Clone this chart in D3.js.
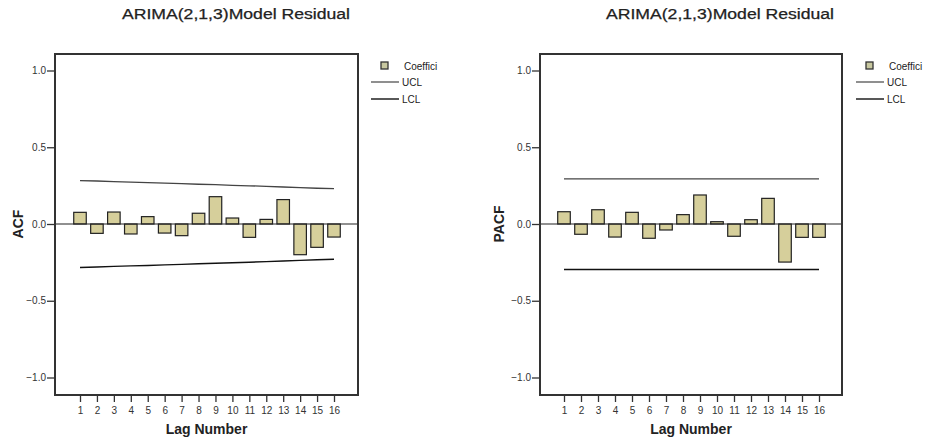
<!DOCTYPE html>
<html>
<head>
<meta charset="utf-8">
<script src="https://cdn.jsdelivr.net/npm/d3@7"></script>
<style>
  html, body { margin: 0; padding: 0; background: #fff; }
  svg { display: block; }
  text { font-family: "Liberation Sans", Arial, sans-serif; }
</style>
</head>
<body>
<svg id="chart" width="928" height="440"></svg>
<script>
// ---- data ----
const lags = [1, 2, 3, 4, 5, 6, 7, 8, 9, 10, 11, 12, 13, 14, 15, 16];
const acfValues = [0.076, -0.061, 0.078, -0.065, 0.048, -0.059, -0.076, 0.070, 0.178, 0.039, -0.087, 0.030, 0.159, -0.200, -0.152, -0.085];
const acfUCL = [0.283, 0.280, 0.276, 0.273, 0.270, 0.266, 0.263, 0.259, 0.256, 0.252, 0.249, 0.245, 0.241, 0.237, 0.233, 0.230];
const acfLCL = [-0.283, -0.280, -0.276, -0.273, -0.270, -0.266, -0.263, -0.259, -0.256, -0.252, -0.249, -0.245, -0.241, -0.237, -0.233, -0.230];
const pacfValues = [0.080, -0.067, 0.093, -0.085, 0.076, -0.093, -0.039, 0.061, 0.189, 0.015, -0.080, 0.028, 0.167, -0.248, -0.087, -0.087];
const pacfUCL = [0.294, 0.294, 0.294, 0.294, 0.294, 0.294, 0.294, 0.294, 0.294, 0.294, 0.294, 0.294, 0.294, 0.294, 0.294, 0.294];
const pacfLCL = [-0.296, -0.296, -0.296, -0.296, -0.296, -0.296, -0.296, -0.296, -0.296, -0.296, -0.296, -0.296, -0.296, -0.296, -0.296, -0.296];
const yTicks = [-1.0, -0.5, 0.0, 0.5, 1.0];
const titleText = "ARIMA(2,1,3)Model Residual";
const legendLabels = ["Coeffici", "UCL", "LCL"];
const xTitle = "Lag Number";

// ---- layout ----
const panels = [
  { yLabel: "ACF", values: acfValues, ucl: acfUCL, lcl: acfLCL,
    frame: { x0: 55, x1: 358, y0: 54, y1: 395 }, lag1: 80, lag16: 334,
    titleX: 236, legendX: 371, yLabelX: 23 },
  { yLabel: "PACF", values: pacfValues, ucl: pacfUCL, lcl: pacfLCL,
    frame: { x0: 540, x1: 842, y0: 54, y1: 395 }, lag1: 564, lag16: 819,
    titleX: 720, legendX: 856, yLabelX: 504 }
];

const svg = d3.select("#chart");
const barFill = "#d6cf9b";
const ink = "#222";

panels.forEach(p => {
  const f = p.frame;
  const g = svg.append("g");
  const x = d3.scaleLinear().domain([1, 16]).range([p.lag1, p.lag16]);
  const y = d3.scaleLinear().domain([-1, 1]).range([377.5, 70.5]);
  const step = x(2) - x(1);
  const bw = step * 0.74;

  // title
  g.append("text").attr("x", p.titleX).attr("y", 19)
    .attr("text-anchor", "middle").attr("font-size", 14).attr("fill", ink)
    .attr("stroke", ink).attr("stroke-width", 0.25)
    .attr("textLength", 228).attr("lengthAdjust", "spacingAndGlyphs")
    .text(titleText);

  // bars
  g.selectAll("rect.bar").data(lags).join("rect")
    .attr("class", "bar")
    .attr("x", d => x(d) - bw / 2)
    .attr("width", bw)
    .attr("y", (d, i) => y(Math.max(0, p.values[i])))
    .attr("height", (d, i) => Math.abs(y(p.values[i]) - y(0)))
    .attr("fill", barFill).attr("stroke", ink).attr("stroke-width", 1.2);

  // zero line
  g.append("line").attr("x1", f.x0).attr("x2", f.x1)
    .attr("y1", y(0)).attr("y2", y(0))
    .attr("stroke", ink).attr("stroke-width", 1.2);

  // confidence limits
  const line = d3.line().x(d => x(d[0])).y(d => y(d[1]));
  g.append("path").datum(lags.map((l, i) => [l, p.ucl[i]]))
    .attr("d", line).attr("fill", "none").attr("stroke", "#444").attr("stroke-width", 1.3);
  g.append("path").datum(lags.map((l, i) => [l, p.lcl[i]]))
    .attr("d", line).attr("fill", "none").attr("stroke", "#111").attr("stroke-width", 1.4);

  // frame
  g.append("rect").attr("x", f.x0).attr("y", f.y0)
    .attr("width", f.x1 - f.x0).attr("height", f.y1 - f.y0)
    .attr("fill", "none").attr("stroke", "#333").attr("stroke-width", 2);

  // y axis
  const yAxis = d3.axisLeft(y).tickValues(yTicks).tickSize(8).tickPadding(1)
    .tickFormat(d => d3.format(".1f")(d).replace("-", "\u2212"));
  const ya = g.append("g").attr("transform", `translate(${f.x0},0)`).call(yAxis);
  ya.select(".domain").remove();
  ya.selectAll(".tick line").attr("stroke", "#333").attr("stroke-width", 1.3);
  ya.selectAll(".tick text").attr("font-size", 10).attr("fill", "#333")
    .attr("font-family", "'Liberation Sans', Arial, sans-serif");

  // x axis
  const xAxis = d3.axisBottom(x).tickValues(lags).tickSize(7).tickPadding(5);
  const xa = g.append("g").attr("transform", `translate(0,${f.y1})`).call(xAxis);
  xa.select(".domain").remove();
  xa.selectAll(".tick line").attr("stroke", "#333").attr("stroke-width", 1.3);
  xa.selectAll(".tick text").attr("font-size", 10).attr("fill", "#333")
    .attr("font-family", "'Liberation Sans', Arial, sans-serif");

  // axis titles
  g.append("text").attr("x", (f.x0 + f.x1) / 2).attr("y", 434)
    .attr("text-anchor", "middle").attr("font-size", 14).attr("font-weight", "bold")
    .attr("fill", ink).text(xTitle);
  g.append("text").attr("transform", `translate(${p.yLabelX},${y(0)}) rotate(-90)`)
    .attr("text-anchor", "middle").attr("font-size", 14).attr("font-weight", "bold")
    .attr("fill", ink).text(p.yLabel);

  // legend
  const lx = p.legendX;
  const lg = g.append("g");
  lg.append("rect").attr("x", lx + 10).attr("y", 62).attr("width", 7).attr("height", 7)
    .attr("fill", "#c8c8a0").attr("stroke", "#333").attr("stroke-width", 1.3);
  lg.append("text").attr("x", lx + 33).attr("y", 69.5).attr("font-size", 10)
    .attr("fill", ink).text(legendLabels[0]);
  lg.append("line").attr("x1", lx).attr("x2", lx + 28).attr("y1", 82).attr("y2", 82)
    .attr("stroke", "#444").attr("stroke-width", 1.2);
  lg.append("text").attr("x", lx + 31).attr("y", 86).attr("font-size", 10)
    .attr("fill", ink).text(legendLabels[1]);
  lg.append("line").attr("x1", lx).attr("x2", lx + 28).attr("y1", 99).attr("y2", 99)
    .attr("stroke", "#111").attr("stroke-width", 1.4);
  lg.append("text").attr("x", lx + 31).attr("y", 103).attr("font-size", 10)
    .attr("fill", ink).text(legendLabels[2]);
});
</script>
</body>
</html>
